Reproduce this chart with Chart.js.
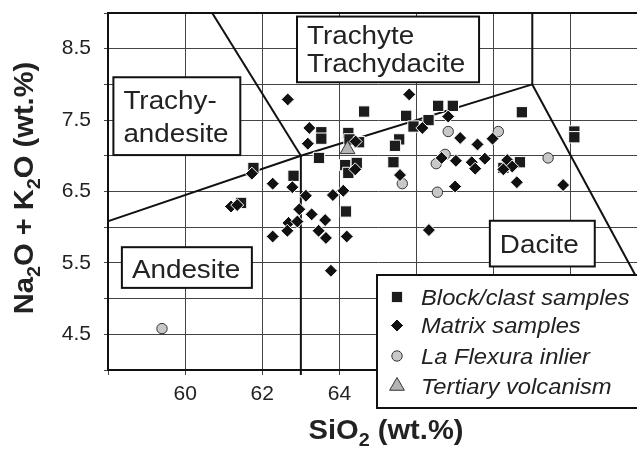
<!DOCTYPE html>
<html>
<head>
<meta charset="utf-8">
<title>TAS diagram</title>
<script src="https://cdn.jsdelivr.net/npm/chart.js@4.4.1/dist/chart.umd.min.js"></script>
<style>
  html, body { margin: 0; padding: 0; background: #fff; overflow: hidden; }
  #tas { display: block; }
</style>
</head>
<body>
<canvas id="tas" width="660" height="455"></canvas>
<script>
// legend / series names
const seriesNames = ["Block/clast samples", "Matrix samples", "La Flexura inlier", "Tertiary volcanism"];

// SiO2 (wt.%) and Na2O + K2O (wt.%) per sample group
const blockSiO2 = [61.45, 61.77, 62.81, 63.53, 63.53, 63.47, 64.64, 64.23, 64.26, 64.51, 64.15, 64.45, 64.23, 64.17,
  66.56, 66.94, 65.73, 66.31, 65.92, 65.55, 65.44, 65.40, 68.73, 70.09, 70.09, 68.68, 68.25];
const blockAlk = [6.34, 6.83, 6.72, 7.33, 7.24, 6.97, 7.62, 7.32, 7.23, 7.19, 6.87, 6.90, 6.76, 6.22,
  7.70, 7.70, 7.56, 7.50, 7.41, 7.23, 7.14, 6.91, 7.61, 7.34, 7.26, 6.91, 6.83];

const matrixSiO2 = [61.19, 61.35, 61.73, 62.66, 63.22, 63.18, 64.42, 64.41, 62.78, 62.27, 63.13, 63.83, 64.10, 62.96,
  63.28, 63.63, 62.68, 62.91, 62.27, 62.65, 63.46, 63.65, 64.19, 63.78, 65.81, 66.82, 66.15, 67.13, 67.58, 67.97,
  65.57, 66.65, 67.02, 67.43, 67.52, 67.77, 67.00, 68.35, 68.48, 68.25, 68.60, 69.80, 66.32];
const matrixAlk = [6.29, 6.31, 6.75, 7.79, 7.39, 7.17, 7.20, 6.81, 6.56, 6.61, 6.44, 6.45, 6.51, 6.25,
  6.18, 6.10, 6.06, 6.08, 5.87, 5.95, 5.95, 5.85, 5.87, 5.39, 7.86, 7.55, 7.39, 7.25, 7.16, 7.24,
  6.73, 6.97, 6.93, 6.91, 6.82, 6.96, 6.57, 6.94, 6.85, 6.81, 6.63, 6.59, 5.96];

const flexuraSiO2 = [59.40, 65.63, 66.82, 68.12, 66.74, 66.51, 66.54, 69.41];
const flexuraAlk = [4.58, 6.61, 7.34, 7.34, 7.02, 6.89, 6.49, 6.97];

const tertiarySiO2 = [64.21];
const tertiaryAlk = [7.09];

// TAS field boundaries, [SiO2, Na2O+K2O]
const lineAndesiteTop = [[57, 5.9], [63, 7], [69, 8]];
const lineTrachyte = [[57.6, 11.7], [63, 7]];
const lineAt63 = [[63, 3], [63, 7]];
const lineAt69 = [[69, 8], [69, 12]];
const lineRhyolite = [[69, 8], [77, 0]];

// rock field names
const fieldNames = [["Trachyte", "Trachydacite"], ["Trachy-", "andesite"], ["Andesite"], ["Dacite"]];

// labelled ticks
const xTickLabels = [60, 62, 64];
const yTickLabels = [4.5, 5.5, 6.5, 7.5, 8.5];

const FONT = '"Liberation Sans", Arial, Helvetica, sans-serif';
const INK = "#222";

const toPoints = (xs, ys) => xs.map((x, i) => ({ x: x, y: ys[i] }));

function boundary(pts, clip) {
  return {
    data: pts.map(p => ({ x: p[0], y: p[1] })),
    showLine: true,
    pointRadius: 0,
    borderColor: "#111",
    borderWidth: 2,
    fill: false,
    order: 10,
    clip: clip,
    isBoundary: true
  };
}

const markerSets = [
  {
    label: seriesNames[0],
    data: toPoints(blockSiO2, blockAlk),
    pointStyle: "rect", pointRadius: 8,
    backgroundColor: "#1c1c1c", borderColor: "#fff", borderWidth: 1,
    order: 3
  },
  {
    label: seriesNames[1],
    data: toPoints(matrixSiO2, matrixAlk),
    pointStyle: "rectRot", pointRadius: 6.5,
    backgroundColor: "#111", borderColor: "#fff", borderWidth: 1,
    order: 1
  },
  {
    label: seriesNames[2],
    data: toPoints(flexuraSiO2, flexuraAlk),
    pointStyle: "circle", pointRadius: 5.2,
    backgroundColor: "#c8c8c8", borderColor: "#333", borderWidth: 1,
    order: 2
  },
  {
    label: seriesNames[3],
    data: toPoints(tertiarySiO2, tertiaryAlk),
    pointStyle: "triangle", pointRadius: 8.5,
    backgroundColor: "#b4b4b4", borderColor: "#333", borderWidth: 1,
    order: 0
  }
];

// text run with optional subscripts, stretched along the writing direction
function setFont(ctx, size, weight, style) {
  ctx.font = (style || "normal") + " " + (weight || "normal") + " " + size + "px " + FONT;
}
function drawRun(ctx, parts, x, y, size, weight, style, stretch, align) {
  let w = 0;
  parts.forEach(p => {
    setFont(ctx, p[1] ? size * 0.68 : size, weight, style);
    w += ctx.measureText(p[0]).width;
  });
  const left = align === "center" ? x - (w * stretch) / 2 : x;
  ctx.save();
  ctx.translate(left, y);
  ctx.scale(stretch, 1);
  ctx.textBaseline = "alphabetic";
  ctx.textAlign = "left";
  let pos = 0;
  parts.forEach(p => {
    setFont(ctx, p[1] ? size * 0.68 : size, weight, style);
    ctx.fillText(p[0], pos, p[1] ? size * 0.24 : 0);
    pos += ctx.measureText(p[0]).width;
  });
  ctx.restore();
}

// field label boxes: corners in data units, baselines in px below the box top
const fieldBoxes = [
  { lines: fieldNames[0], x0: 62.90, x1: 67.62, y0: 8.95, y1: 8.03, base: [27, 55] },
  { lines: fieldNames[1], x0: 58.14, x1: 61.43, y0: 8.10, y1: 7.01, base: [32, 65] },
  { lines: fieldNames[2], x0: 58.36, x1: 61.73, y0: 5.72, y1: 5.15, base: [31] },
  { lines: fieldNames[3], x0: 67.90, x1: 70.62, y0: 6.09, y1: 5.45, base: [32] }
];

const tasDecor = {
  id: "tasDecor",
  beforeDatasetsDraw(chart) {
    const { ctx, chartArea } = chart;
    ctx.save();
    ctx.strokeStyle = "#111";
    ctx.lineWidth = 2;
    ctx.beginPath();
    ctx.moveTo(chartArea.left - 1, chartArea.top);
    ctx.lineTo(chartArea.right + 1, chartArea.top);
    ctx.stroke();
    ctx.restore();
  },
  afterDatasetsDraw(chart) {
    const { ctx, scales } = chart;
    ctx.save();
    fieldBoxes.forEach(b => {
      const l = scales.x.getPixelForValue(b.x0);
      const r = scales.x.getPixelForValue(b.x1);
      const t = scales.y.getPixelForValue(b.y0);
      const btm = scales.y.getPixelForValue(b.y1);
      ctx.fillStyle = "#fff";
      ctx.fillRect(l, t, r - l, btm - t);
      ctx.strokeStyle = "#111";
      ctx.lineWidth = 2;
      ctx.strokeRect(l, t, r - l, btm - t);
      ctx.fillStyle = INK;
      b.lines.forEach((txt, i) => {
        drawRun(ctx, [[txt, false]], l + 10, t + b.base[i], 26, "normal", "normal", 1.07, "left");
      });
    });
    ctx.restore();
  },
  afterDraw(chart) {
    const { ctx } = chart;
    ctx.save();

    // legend box
    const lx = 377, ly = 275;
    ctx.fillStyle = "#fff";
    ctx.fillRect(lx, ly, 400, 133);
    ctx.strokeStyle = "#111";
    ctx.lineWidth = 2;
    ctx.strokeRect(lx, ly, 400, 133);
    const rows = [297, 325.5, 356, 386];
    markerSets.forEach((ds, i) => {
      ctx.fillStyle = ds.backgroundColor;
      ctx.strokeStyle = ds.borderColor;
      ctx.lineWidth = ds.borderWidth;
      Chart.helpers.drawPoint(ctx, {
        pointStyle: ds.pointStyle,
        radius: ds.pointRadius,
        rotation: 0,
        borderWidth: ds.borderWidth
      }, 397, rows[i]);
      ctx.fillStyle = INK;
      drawRun(ctx, [[ds.label, false]], 421, rows[i] + 7.8, 22, "normal", "italic", 1.08, "left");
    });

    // axis titles
    ctx.fillStyle = INK;
    drawRun(ctx, [["SiO", false], ["2", true], [" (wt.%)", false]], 386, 439, 28, "bold", "normal", 1.04, "center");
    ctx.save();
    ctx.translate(33, 188);
    ctx.rotate(-Math.PI / 2);
    drawRun(ctx, [["Na", false], ["2", true], ["O + K", false], ["2", true], ["O (wt.%)", false]],
      0, 0, 28, "bold", "normal", 1.04, "center");
    ctx.restore();

    ctx.restore();
  }
};

const tickFont = { family: FONT, size: 21 };

new Chart(document.getElementById("tas"), {
  type: "scatter",
  data: {
    datasets: [
      ...markerSets,
      boundary(lineAndesiteTop),
      boundary(lineTrachyte),
      boundary(lineAt63, { left: 1, right: 1, top: 1, bottom: 5 }),
      boundary(lineAt69),
      boundary(lineRhyolite)
    ]
  },
  options: {
    responsive: false,
    animation: false,
    events: [],
    layout: { padding: { top: 13, right: 12, left: 0, bottom: 0 } },
    scales: {
      x: {
        type: "linear",
        min: 58,
        max: 72,
        ticks: {
          stepSize: 2,
          autoSkip: false,
          maxRotation: 0,
          padding: 7,
          color: INK,
          font: tickFont,
          callback: v => (xTickLabels.includes(v) ? String(v) : "")
        },
        grid: { color: "#444", lineWidth: 1, tickLength: 5 },
        border: { color: "#111", width: 2 },
        afterFit: s => { s.height = 85; s.paddingLeft = 0; s.paddingRight = 0; }
      },
      y: {
        type: "linear",
        min: 4,
        max: 9,
        ticks: {
          stepSize: 0.5,
          padding: 13,
          color: INK,
          font: tickFont,
          callback: v => (yTickLabels.includes(v) ? v.toFixed(1) : "")
        },
        grid: { color: "#444", lineWidth: 1, tickLength: 4 },
        border: { color: "#111", width: 2 },
        afterFit: s => { s.width = 108; s.paddingTop = 0; s.paddingBottom = 0; }
      }
    },
    plugins: {
      legend: { display: false },
      tooltip: { enabled: false }
    }
  },
  plugins: [tasDecor]
});
</script>
</body>
</html>
